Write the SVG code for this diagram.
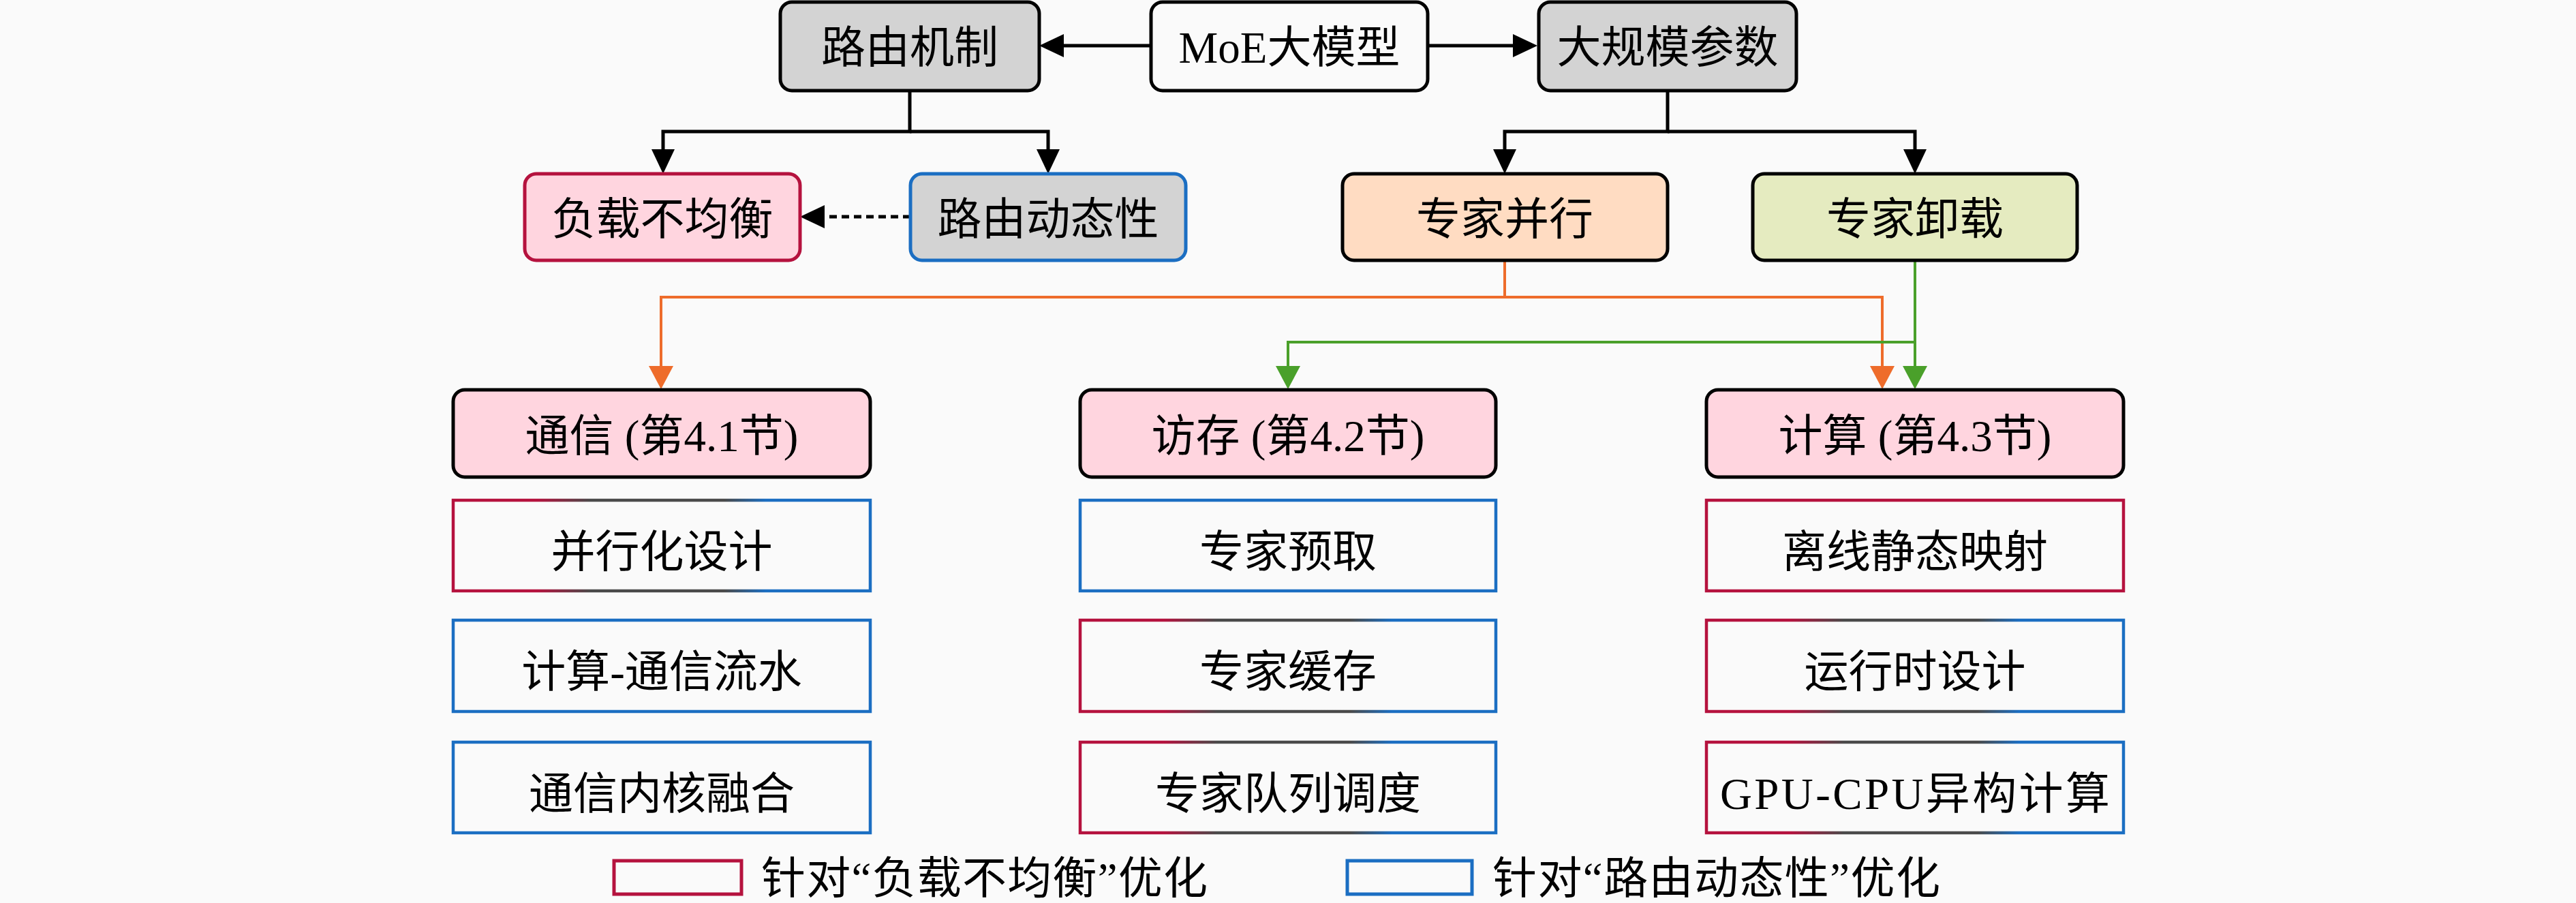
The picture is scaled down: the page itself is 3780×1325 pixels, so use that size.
<svg xmlns="http://www.w3.org/2000/svg" width="3780" height="1325" viewBox="0 0 3780 1325">
<defs>
<style>
text{font-family:"Liberation Serif","Noto Sans CJK SC",serif;font-size:65px;fill:#000;text-anchor:middle}
.nb{stroke:#000;stroke-width:5}
.gray{fill:#d3d3d3}
.sub{fill:#fafafa;stroke-width:4.5}
.red{stroke:#b5123e}
.blue{stroke:#1b6ec2}
.mix{stroke:url(#g)}
.bl{fill:none;stroke:#000;stroke-width:5}
.or{fill:none;stroke:#ee6c2b;stroke-width:4}
.gr{fill:none;stroke:#4aa02a;stroke-width:4}
</style>
<linearGradient id="g" x1="0" y1="0" x2="1" y2="0">
<stop offset="0" stop-color="#b5123e"/>
<stop offset="0.2" stop-color="#b5123e"/>
<stop offset="0.33" stop-color="#4a4a4a"/>
<stop offset="0.65" stop-color="#4a4a4a"/>
<stop offset="0.75" stop-color="#1b6ec2"/>
<stop offset="1" stop-color="#1b6ec2"/>
</linearGradient>
<marker id="ab" viewBox="0 0 36 34" refX="28" refY="17" markerWidth="36" markerHeight="34" markerUnits="userSpaceOnUse" orient="auto"><path d="M0,0 L36,17 L0,34 z" fill="#000"/></marker>
<marker id="ao" viewBox="0 0 34 36" refX="28" refY="18" markerWidth="34" markerHeight="36" markerUnits="userSpaceOnUse" orient="auto"><path d="M0,0 L34,18 L0,36 z" fill="#ee6c2b"/></marker>
<marker id="ag" viewBox="0 0 34 36" refX="28" refY="18" markerWidth="34" markerHeight="36" markerUnits="userSpaceOnUse" orient="auto"><path d="M0,0 L34,18 L0,36 z" fill="#4aa02a"/></marker>
</defs>
<rect x="0" y="0" width="3780" height="1325" fill="#fafafa"/>

<g id="connectors">
<path class="bl" d="M1689,67 H1533" marker-end="url(#ab)"/>
<path class="bl" d="M2095,67 H2248" marker-end="url(#ab)"/>
<path class="bl" d="M1335,133 V193 H973 V247" marker-end="url(#ab)"/>
<path class="bl" d="M1335,193 H1538 V247" marker-end="url(#ab)"/>
<path class="bl" d="M2447,133 V193 H2208 V247" marker-end="url(#ab)"/>
<path class="bl" d="M2447,193 H2810 V247" marker-end="url(#ab)"/>
<path class="bl" d="M1336,318 H1182" stroke-width="7" stroke-dasharray="11 7" marker-end="url(#ab)"/>
<path class="or" d="M2208,382 V436 H970 V565" marker-end="url(#ao)"/>
<path class="or" d="M2208,436 H2762 V565" marker-end="url(#ao)"/>
<path class="gr" d="M2810,382 V565" marker-end="url(#ag)"/>
<path class="gr" d="M2810,502 H1890 V565" marker-end="url(#ag)"/>
</g>

<g id="n-routing">
<rect class="nb gray" x="1145" y="3" width="380" height="130" rx="17"/>
<text x="1335" y="92">路由机制</text>
</g>
<g id="n-moe">
<rect class="nb" fill="#fafafa" x="1689" y="3" width="406" height="130" rx="17"/>
<text x="1892" y="92">MoE大模型</text>
</g>
<g id="n-params">
<rect class="nb gray" x="2258" y="3" width="378" height="130" rx="17"/>
<text x="2447" y="92">大规模参数</text>
</g>

<g id="n-imbalance">
<rect fill="#ffd5df" stroke="#b5123e" stroke-width="5" x="770" y="255" width="404" height="127" rx="17"/>
<text x="972" y="344">负载不均衡</text>
</g>
<g id="n-dynamic">
<rect class="gray" stroke="#1b6ec2" stroke-width="5" x="1336" y="255" width="404" height="127" rx="17"/>
<text x="1538" y="344">路由动态性</text>
</g>
<g id="n-ep">
<rect class="nb" fill="#ffdcc2" x="1970" y="255" width="477" height="127" rx="17"/>
<text x="2208" y="344">专家并行</text>
</g>
<g id="n-offload">
<rect class="nb" fill="#e5ebc0" x="2572" y="255" width="476" height="127" rx="17"/>
<text x="2810" y="344">专家卸载</text>
</g>

<g id="n-comm">
<rect class="nb" fill="#ffd5df" x="665" y="572" width="612" height="128" rx="17"/>
<text x="971" y="662">通信 (第4.1节)</text>
</g>
<g id="n-mem">
<rect class="nb" fill="#ffd5df" x="1585" y="572" width="610" height="128" rx="17"/>
<text x="1890" y="662">访存 (第4.2节)</text>
</g>
<g id="n-comp">
<rect class="nb" fill="#ffd5df" x="2504" y="572" width="612" height="128" rx="17"/>
<text x="2810" y="662">计算 (第4.3节)</text>
</g>

<g id="s-parallel">
<rect class="sub mix" x="665" y="734" width="612" height="133"/>
<text x="971" y="832">并行化设计</text>
</g>
<g id="s-pipeline">
<rect class="sub blue" x="665" y="910" width="612" height="134"/>
<text x="971" y="1008">计算-通信流水</text>
</g>
<g id="s-fusion">
<rect class="sub blue" x="665" y="1089" width="612" height="133"/>
<text x="971" y="1187">通信内核融合</text>
</g>

<g id="s-prefetch">
<rect class="sub blue" x="1585" y="734" width="610" height="133"/>
<text x="1890" y="832">专家预取</text>
</g>
<g id="s-cache">
<rect class="sub mix" x="1585" y="910" width="610" height="134"/>
<text x="1890" y="1008">专家缓存</text>
</g>
<g id="s-queue">
<rect class="sub mix" x="1585" y="1089" width="610" height="133"/>
<text x="1890" y="1187">专家队列调度</text>
</g>

<g id="s-offline">
<rect class="sub red" x="2504" y="734" width="612" height="133"/>
<text x="2810" y="832">离线静态映射</text>
</g>
<g id="s-runtime">
<rect class="sub mix" x="2504" y="910" width="612" height="134"/>
<text x="2810" y="1008">运行时设计</text>
</g>
<g id="s-hetero">
<rect class="sub mix" x="2504" y="1089" width="612" height="133"/>
<text x="2810" y="1187" textLength="572" lengthAdjust="spacing">GPU-CPU异构计算</text>
</g>

<g id="legend-imbalance">
<rect fill="#fafafa" stroke="#b5123e" stroke-width="5" x="901" y="1263" width="187" height="49"/>
<text x="1117" y="1311" style="text-anchor:start" textLength="655" lengthAdjust="spacing">针对“负载不均衡”优化</text>
</g>
<g id="legend-dynamic">
<rect fill="#fafafa" stroke="#1b6ec2" stroke-width="5" x="1977" y="1263" width="183" height="49"/>
<text x="2190" y="1311" style="text-anchor:start" textLength="657" lengthAdjust="spacing">针对“路由动态性”优化</text>
</g>
</svg>
